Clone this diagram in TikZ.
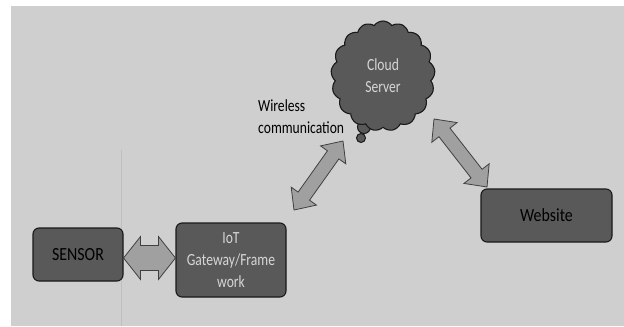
\documentclass[tikz,border=0pt]{standalone}
\usepackage{fontspec}
\setmainfont{Carlito}
\newfontfamily\narrowsmall[FakeStretch=0.8]{Carlito}
\newfontfamily\narrowbig[FakeStretch=0.86]{Carlito}
\usetikzlibrary{calc,shapes.symbols}
\definecolor{bggray}{HTML}{CFCFCF}
\definecolor{boxgray}{HTML}{595959}
\definecolor{arrowgray}{HTML}{A0A0A0}
\definecolor{lighttext}{HTML}{D6D6D6}
\definecolor{darkline}{HTML}{1A1A1A}
\newcommand\blockarrow[5]{% from #1 to #2, head length #3, head half-width #4, shaft half-width #5
  \filldraw[arrowstyle]
    (#1) -- ($($(#1)!#3!(#2)$)!#4!90:(#2)$)
    -- ($($(#1)!#3!(#2)$)!#5!90:(#2)$)
    -- ($($(#2)!#3!(#1)$)!#5!-90:(#1)$)
    -- ($($(#2)!#3!(#1)$)!#4!-90:(#1)$)
    -- (#2)
    -- ($($(#2)!#3!(#1)$)!#4!90:(#1)$)
    -- ($($(#2)!#3!(#1)$)!#5!90:(#1)$)
    -- ($($(#1)!#3!(#2)$)!#5!-90:(#2)$)
    -- ($($(#1)!#3!(#2)$)!#4!-90:(#2)$)
    -- cycle;}
\begin{document}
\begin{tikzpicture}[x=1pt,y=-1pt,
  box/.style={draw=darkline, line width=1.1pt, fill=boxgray, rounded corners=6pt,
    inner sep=0pt, align=center},
  bigtext/.style={font=\narrowbig\fontsize{18.5}{22}\selectfont, text=black},
  smalltext/.style={font=\narrowsmall\fontsize{17}{22}\selectfont},
  arrowstyle/.style={fill=arrowgray, draw=black!75, line width=0.8pt, line join=miter},
  bubble/.style={draw=darkline, line width=1pt, fill=boxgray}]
  % background
  \fill[white] (0,0) rectangle (624,326);
  \fill[bggray] (11,6) rectangle (624,326);
  \draw[black!25, line width=0.6pt] (121.5,150) -- (121.5,326);
  \useasboundingbox (0,0) rectangle (624,326);
  % cloud
  \node[bubble, circle, minimum size=9pt, inner sep=0pt] (b2) at (361,138) {};
  \node[bubble, circle, minimum size=13pt, inner sep=0pt] (b1) at (364,127) {};
  \node[cloud, cloud puffs=17, cloud puff arc=110, aspect=1, draw=darkline, line width=1.1pt,
    fill=boxgray, minimum width=104pt, minimum height=110pt, inner sep=0pt,
    smalltext, text=lighttext, align=center] (cloud) at (383,76) {Cloud\\Server};
  % boxes
  \node[box, bigtext, minimum width=90pt, minimum height=53pt] (sensor) at (78,254.5) {SENSOR};
  \node[box, smalltext, text=lighttext, minimum width=110pt, minimum height=74pt] (iot) at (231,260)
    {IoT\\Gateway/Frame\\work};
  \node[box, bigtext, minimum width=131pt, minimum height=53pt] (web) at (546.5,215.5) {Website};
  % label
  \node[smalltext, text=black, align=left, anchor=west, inner sep=0pt] (wl) at (258,117)
    {Wireless\\communication};
  % arrow end points
  \coordinate (s1) at (sensor.east |- 0,258);
  \coordinate (s2) at (iot.west |- 0,258);
  \coordinate (w1) at (294,210);
  \coordinate (w2) at (343,141);
  \coordinate (c1) at (434,119);
  \coordinate (c2) at (487,187);
  \blockarrow{s1}{s2}{17pt}{21.5pt}{12.5pt}
  \blockarrow{w1}{w2}{17pt}{15.5pt}{7pt}
  \blockarrow{c1}{c2}{17pt}{16pt}{7pt}
\end{tikzpicture}
\end{document}
